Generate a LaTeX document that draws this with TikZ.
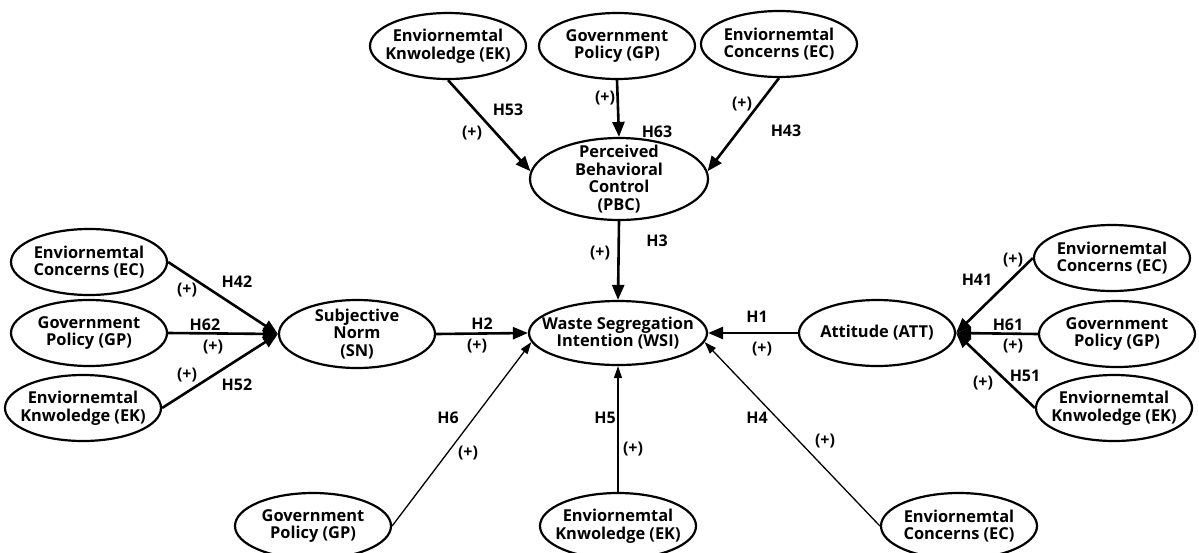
\documentclass[tikz,border=0pt]{standalone}
\usepackage{fontspec}
\setmainfont{Open Sans}
\usetikzlibrary{shapes.geometric,arrows.meta}
\begin{document}
\begin{tikzpicture}[x=0.5pt,y=-0.5pt,
  ell/.style={ellipse,draw,line width=1.1pt,inner sep=0pt,minimum width=78pt,minimum height=33pt},
  txt/.style={font=\bfseries\fontsize{8.2}{8.8}\selectfont,align=center,inner sep=0pt},
  lab/.style={font=\bfseries\fontsize{8}{9}\selectfont,inner sep=0pt},
  conn/.style={line width=1.3pt,-{Triangle[length=7.5pt,width=6pt]}},
  connthin/.style={line width=0.65pt,-{Triangle[length=6pt,width=4pt]}}]
\clip (0,0) rectangle (1199,552);
\fill[white] (0,0) rectangle (1199,552);
% top row
\node[ell,label={[txt]center:Enviornemtal\\Knwoledge (EK)}] (ekT) at (448,46) {};
\node[ell,label={[txt]center:Government\\Policy (GP)}] (gpT) at (617,46) {};
\node[ell,label={[txt]center:Enviornemtal\\Concerns (EC)}] (ecT) at (779,44) {};
\node[ell,minimum width=89pt,minimum height=41pt,label={[txt]center:Perceived\\Behavioral\\Control\\(PBC)}] (pbc) at (619,179) {};
% middle row
\node[ell,label={[txt]center:Enviornemtal\\Concerns (EC)}] (ecL) at (89,262) {};
\node[ell,label={[txt]center:Government\\Policy (GP)}] (gpL) at (89,333) {};
\node[ell,label={[txt]center:Enviornemtal\\Knwoledge (EK)}] (ekL) at (83,408) {};
\node[ell,minimum height=34pt,label={[txt]center:Subjective\\Norm\\(SN)}] (sn) at (357,334) {};
\node[ell,minimum width=89pt,minimum height=32pt,label={[txt]center:Waste Segregation\\Intention (WSI)}] (wsi) at (618,333) {};
\node[ell,label={[txt]center:Attitude (ATT)}] (att) at (877,333) {};
\node[ell,label={[txt]center:Enviornemtal\\Concerns (EC)}] (ecR) at (1112,258) {};
\node[ell,label={[txt]center:Government\\Policy (GP)}] (gpR) at (1117,334) {};
\node[ell,label={[txt]center:Enviornemtal\\Knwoledge (EK)}] (ekR) at (1114,408) {};
% bottom row
\node[ell,label={[txt]center:Government\\Policy (GP)}] (gpB) at (313,526) {};
\node[ell,label={[txt]center:Enviornemtal\\Knwoledge (EK)}] (ekB) at (618,526) {};
\node[ell,label={[txt]center:Enviornemtal\\Concerns (EC)}] (ecB) at (959,526) {};
% connectors
\draw[conn] (ekT.south) -- (pbc.175);
\draw[conn] (gpT.south) -- (pbc.north);
\draw[conn] (ecT.south) -- (pbc.5);
\draw[conn] (pbc.south) -- (wsi.north);
\draw[conn] (ecL.east) -- (sn.west);
\draw[conn] (gpL.east) -- (sn.west);
\draw[conn] (ekL.east) -- (sn.west);
\draw[conn] (sn.east) -- (wsi.west);
\draw[conn] (ecR.west) -- (att.east);
\draw[conn] (gpR.west) -- (att.east);
\draw[conn] (ekR.west) -- (att.east);
\draw[conn] (att.west) -- (wsi.east);
\draw[connthin] (gpB.east) -- (wsi.186);
\draw[connthin] (ekB.north) -- (wsi.south);
\draw[connthin] (ecB.west) -- (wsi.-6);
% labels
\node[lab] (l53) at (508,110) {H53};
\node[lab] (p53) at (472,133) {(+)};
\node[lab] (p63) at (605,98) {(+)};
\node[lab] (l63) at (657,132) {H63};
\node[lab] (p43) at (742,104) {(+)};
\node[lab] (l43) at (786,131) {H43};
\node[lab] (p3) at (600,253) {(+)};
\node[lab] (l3) at (657,241) {H3};
\node[lab] (l42) at (237,282) {H42};
\node[lab] (p42) at (187,290) {(+)};
\node[lab] (l62) at (205,325) {H62};
\node[lab] (p62) at (213,347) {(+)};
\node[lab] (p52) at (187,375) {(+)};
\node[lab] (l52) at (237,385) {H52};
\node[lab] (l2) at (482,324) {H2};
\node[lab] (p2) at (477,346) {(+)};
\node[lab] (l1) at (757,317) {H1};
\node[lab] (p1) at (762,349) {(+)};
\node[lab] (l41) at (977,280) {H41};
\node[lab] (p41) at (1013,260) {(+)};
\node[lab] (l61) at (1008,325) {H61};
\node[lab] (p61) at (1013,346) {(+)};
\node[lab] (p51) at (983,383) {(+)};
\node[lab] (l51) at (1025,376) {H51};
\node[lab] (l6) at (448,418) {H6};
\node[lab] (p6) at (468,453) {(+)};
\node[lab] (l5) at (605,418) {H5};
\node[lab] (p5) at (633,449) {(+)};
\node[lab] (l4) at (757,418) {H4};
\node[lab] (p4) at (825,441) {(+)};
\end{tikzpicture}
\end{document}
